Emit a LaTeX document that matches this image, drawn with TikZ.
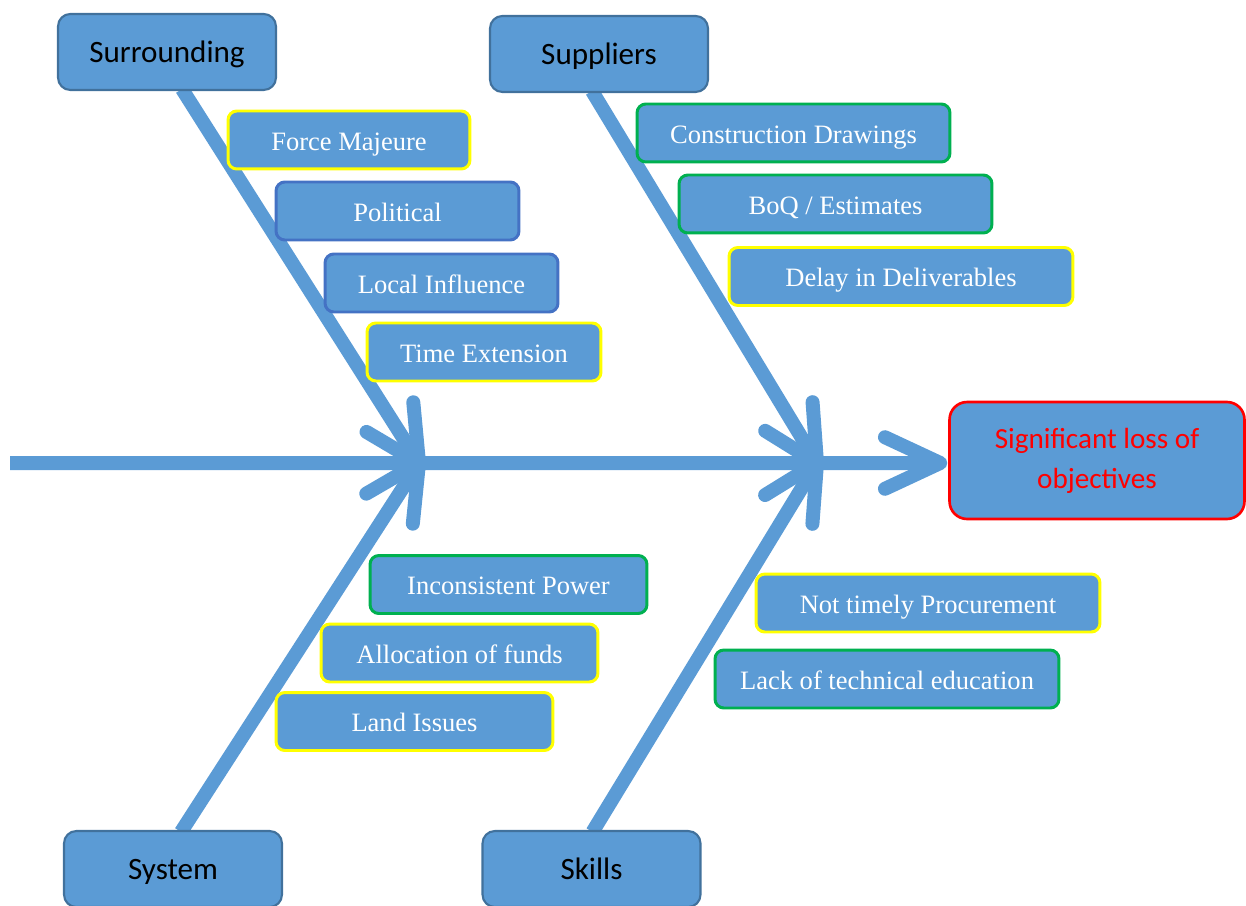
\documentclass[tikz,border=0pt]{standalone}
\usepackage{fontspec}
\setmainfont{Liberation Serif}
\newfontfamily\calfont{Carlito}
\usetikzlibrary{calc}
\definecolor{fillc}{RGB}{91,155,213}
\definecolor{catb}{RGB}{65,113,156}
\definecolor{yel}{RGB}{255,255,0}
\definecolor{grn}{RGB}{0,176,80}
\definecolor{blu}{RGB}{68,114,196}
\definecolor{redc}{RGB}{255,0,0}
\pgfdeclarelayer{bg}
\pgfsetlayers{bg,main}
\begin{document}
\begin{tikzpicture}[x=0.02cm,y=-0.02cm,
  cat/.style={draw=catb, line width=1.2pt, fill=fillc, rounded corners=7pt,
    minimum width=4.36cm, minimum height=1.52cm, inner sep=0pt,
    text height=11.4pt, text depth=0pt,
    font=\calfont\fontsize{17.7}{21}\selectfont, text=black},
  sub/.style={fill=fillc, line width=1.7pt, rounded corners=5pt,
    minimum height=1.16cm, inner sep=0pt,
    text height=11.4pt, text depth=0pt,
    font=\fontsize{15.1}{18}\selectfont, text=white},
  goalbox/.style={draw=redc, line width=1.5pt, fill=fillc, rounded corners=10pt,
    minimum width=5.9cm, minimum height=2.34cm, inner sep=0pt, align=center,
    font=\calfont\fontsize{16.6}{22.8}\selectfont, text=redc},
  bone/.style={draw=fillc, line width=0.28cm},
  barb/.style={draw=fillc, line width=0.28cm, line cap=round, line join=round}]
\useasboundingbox (0,0) rectangle (1246,905);
\clip (0,0) rectangle (1246,905);
\def\armlen{1.22cm}
% category boxes
\node[cat] (sur) at (167,52) {Surrounding};
\node[cat] (sup) at (599,54) {Suppliers};
\node[cat] (sys) at (173,869) {System};
\node[cat] (skl) at (591.5,869) {Skills};
\node[goalbox] (goal) at (1097,460.5) {\rule{0pt}{12pt}Significant loss of\\objectives};
% sub causes
\node[sub, draw=yel, minimum width=4.84cm] (fm) at (349,140) {Force Majeure};
\node[sub, draw=blu, minimum width=4.86cm] (pol) at (397.5,211) {Political};
\node[sub, draw=blu, minimum width=4.66cm] (li) at (441.5,283) {Local Influence};
\node[sub, draw=yel, minimum width=4.68cm] (te) at (484,352) {Time Extension};
\node[sub, draw=grn, minimum width=6.26cm] (cd) at (793.5,133) {Construction Drawings};
\node[sub, draw=grn, minimum width=6.26cm] (boq) at (835.5,204) {BoQ / Estimates};
\node[sub, draw=yel, minimum width=6.88cm] (dd) at (901,276.5) {Delay in Deliverables};
\node[sub, draw=grn, minimum width=5.54cm] (ip) at (508.5,584.5) {Inconsistent Power};
\node[sub, draw=yel, minimum width=5.54cm] (af) at (459.5,653) {Allocation of funds};
\node[sub, draw=yel, minimum width=5.54cm] (ls) at (414.5,721.5) {Land Issues};
\node[sub, draw=yel, minimum width=6.88cm] (ntp) at (928,603) {Not timely Procurement};
\node[sub, draw=grn, minimum width=6.88cm] (lte) at (887,679) {Lack of technical education};
% skeleton
\coordinate (tail) at (10,463);
\coordinate (head) at ($(goal.west)+(-8,2.5)$);
\coordinate (j1) at (419,463);
\coordinate (j2) at (817,463);
\coordinate (s1) at ($(sur.south)+(15,-2)$);
\coordinate (s2) at ($(sup.south)+(-7,-2)$);
\coordinate (s3) at ($(sys.north)+(8,2)$);
\coordinate (s4) at ($(skl.north)+(1,2)$);
\begin{pgfonlayer}{bg}
\draw[bone] (tail) -- (head);
\draw[barb] ($(head)!\armlen!25:(tail)$) -- (head) -- ($(head)!\armlen!-25:(tail)$);
\foreach \s/\j in {s1/j1,s2/j2,s3/j1,s4/j2}{
  \draw[bone] (\s) -- (\j);
  \draw[barb] ($(\j)!\armlen!27:(\s)$) -- (\j) -- ($(\j)!\armlen!-27:(\s)$);
}
\end{pgfonlayer}
\end{tikzpicture}
\end{document}
